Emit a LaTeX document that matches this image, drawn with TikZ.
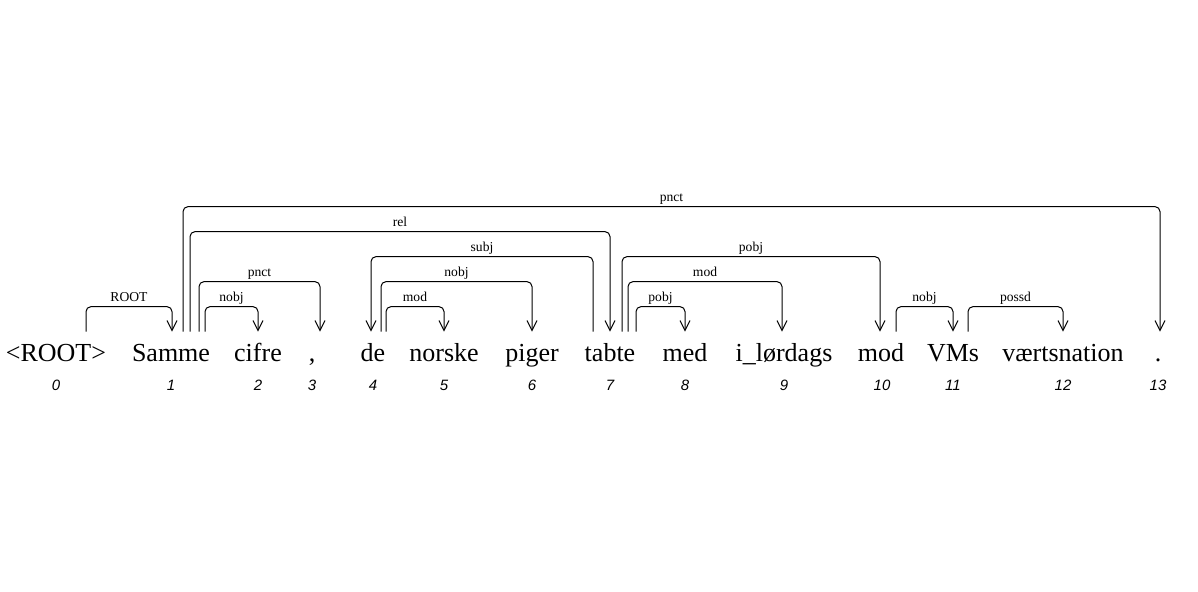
\documentclass[tikz,border=0pt]{standalone}
\usepackage{fontspec}
\setmainfont{Liberation Serif}
\newfontfamily\numfont{Liberation Sans}
\usetikzlibrary{arrows.meta,calc}

\begin{document}
\begin{tikzpicture}[
  x=0.5pt, y=-0.5pt,
  word/.style={anchor=base, inner sep=0pt, text height=14.5pt, font=\fontsize{13}{15}\selectfont},
  num/.style={anchor=base, inner sep=0pt, font=\numfont\itshape\fontsize{7.5}{9}\selectfont},
  dep/.style={-{Straight Barb[length=5pt,width=5pt]}, line width=0.5pt, rounded corners=2.5pt},
  lbl/.style={anchor=base, yshift=2.5pt, inner sep=0pt, font=\fontsize{6.8}{8}\selectfont}
]
\useasboundingbox (0,0) rectangle (1198,591);
% tokens
\node[word] (w0) at (56,361) {<ROOT>};
\node[word] (w1) at (171,361) {Samme};
\node[word] (w2) at (258,361) {cifre};
\node[word] (w3) at (312,361) {,};
\node[word] (w4) at (373,361) {de};
\node[word] (w5) at (444,361) {norske};
\node[word] (w6) at (532,361) {piger};
\node[word] (w7) at (610,361) {tabte};
\node[word] (w8) at (685,361) {med};
\node[word] (w9) at (784,361) {i\_lørdags};
\node[word] (w10) at (881,361) {mod};
\node[word] (w11) at (953,361) {VMs};
\node[word] (w12) at (1063,361) {værtsnation};
\node[word] (w13) at (1158,361) {.};
% indices
\node[num] (n0) at (56,390) {0};
\node[num] (n1) at (171,390) {1};
\node[num] (n2) at (258,390) {2};
\node[num] (n3) at (312,390) {3};
\node[num] (n4) at (373,390) {4};
\node[num] (n5) at (444,390) {5};
\node[num] (n6) at (532,390) {6};
\node[num] (n7) at (610,390) {7};
\node[num] (n8) at (685,390) {8};
\node[num] (n9) at (784,390) {9};
\node[num] (n10) at (882,390) {10};
\node[num] (n11) at (953,390) {11};
\node[num] (n12) at (1063,390) {12};
\node[num] (n13) at (1158,390) {13};
% arcs
\draw[dep] ($(w0.north)+(30,0)$) -- ++(0,-25) -| node[lbl,pos=.25]{ROOT} ($(w1.north)+(1,0)$);
\draw[dep] ($(w1.north)+(12,0)$) -- ++(0,-125) -| node[lbl,pos=.25]{pnct} ($(w13.north)+(2,0)$);
\draw[dep] ($(w1.north)+(19,0)$) -- ++(0,-100) -| node[lbl,pos=.25]{rel} (w7.north);
\draw[dep] ($(w1.north)+(28,0)$) -- ++(0,-50) -| node[lbl,pos=.25]{pnct} ($(w3.north)+(8,0)$);
\draw[dep] ($(w1.north)+(34,0)$) -- ++(0,-25) -| node[lbl,pos=.25]{nobj} (w2.north);
\draw[dep] ($(w7.north)+(-17,0)$) -- ++(0,-75) -| node[lbl,pos=.25]{subj} ($(w4.north)+(-2,0)$);
\draw[dep] ($(w4.north)+(8,0)$) -- ++(0,-50) -| node[lbl,pos=.25]{nobj} (w6.north);
\draw[dep] ($(w4.north)+(13,0)$) -- ++(0,-25) -| node[lbl,pos=.25]{mod} (w5.north);
\draw[dep] ($(w7.north)+(12,0)$) -- ++(0,-75) -| node[lbl,pos=.25]{pobj} ($(w10.north)+(-1,0)$);
\draw[dep] ($(w7.north)+(18,0)$) -- ++(0,-50) -| node[lbl,pos=.25]{mod} ($(w9.north)+(-2,0)$);
\draw[dep] ($(w7.north)+(26,0)$) -- ++(0,-25) -| node[lbl,pos=.25]{pobj} (w8.north);
\draw[dep] ($(w10.north)+(15,0)$) -- ++(0,-25) -| node[lbl,pos=.25]{nobj} (w11.north);
\draw[dep] ($(w11.north)+(15,0)$) -- ++(0,-25) -| node[lbl,pos=.25]{possd} (w12.north);
\end{tikzpicture}
\end{document}
